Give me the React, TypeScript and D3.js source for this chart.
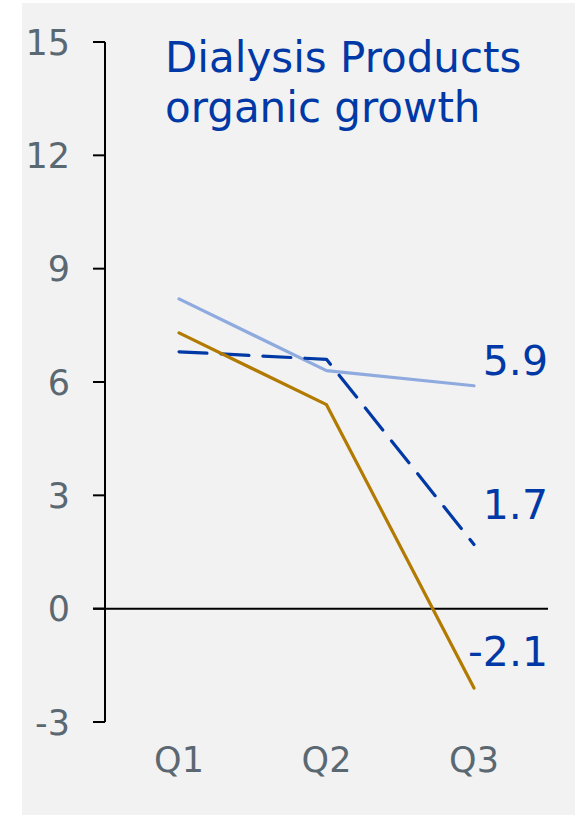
import * as d3 from 'd3';

const quarters = ['Q1', 'Q2', 'Q3'];
const yTicks = [-3, 0, 3, 6, 9, 12, 15];
const lightSeries = [8.2, 6.3, 5.9];
const dashedSeries = [6.8, 6.6, 1.7];
const goldSeries = [7.3, 5.4, -2.1];
const titleLines = ['Dialysis Products', 'organic growth'];

const W = 580;
const H = 817;
const FONT = '"DejaVu Sans", Verdana, sans-serif';
const BLUE = '#0039a6';
const GREY = '#5a6872';

export default function App() {
  const x = d3.scalePoint<string>().domain(quarters).range([179, 474]);
  const y = d3.scaleLinear().domain([-3, 15]).range([722, 42]);

  const line = d3
    .line<number>()
    .x((_, i) => x(quarters[i]) as number)
    .y(d => y(d));

  const series = [
    { values: lightSeries, color: '#8eaadf', dash: undefined, labelDy: -11 },
    { values: dashedSeries, color: BLUE, dash: '28 14', labelDy: -25 },
    { values: goldSeries, color: '#b27a00', dash: undefined, labelDy: -22 },
  ];

  const axisX = 105;
  const last = quarters.length - 1;

  return (
    <svg
      width={W}
      height={H}
      style={{ position: 'absolute', left: 0, top: 0 }}
      fontFamily={FONT}
    >
      <rect x={0} y={0} width={W} height={H} fill="#ffffff" />
      <rect x={22} y={3} width={553} height={812} fill="#f2f2f2" />

      {titleLines.map((t, i) => (
        <text key={t} x={165} y={72 + i * 50} fontSize={42} fill={BLUE}>
          {t}
        </text>
      ))}

      {/* y axis */}
      <line x1={axisX} x2={axisX} y1={y(15)} y2={y(-3)} stroke="#000" strokeWidth={2} />
      {yTicks.map(t => (
        <g key={t}>
          <line x1={93} x2={axisX} y1={y(t)} y2={y(t)} stroke="#000" strokeWidth={2} />
          <text
            x={70}
            y={y(t)}
            dy="0.36em"
            textAnchor="end"
            fontSize={35}
            fill={GREY}
          >
            {t}
          </text>
        </g>
      ))}

      {/* zero line */}
      <line x1={93} x2={548} y1={y(0)} y2={y(0)} stroke="#000" strokeWidth={2} />

      {quarters.map(q => (
        <text
          key={q}
          x={x(q)}
          y={772}
          textAnchor="middle"
          fontSize={35}
          fill={GREY}
        >
          {q}
        </text>
      ))}

      {series.map((s, i) => (
        <path
          key={i}
          d={line(s.values) || ''}
          fill="none"
          stroke={s.color}
          strokeWidth={3.2}
          strokeDasharray={s.dash}
          strokeLinecap="round"
          strokeLinejoin="round"
        />
      ))}

      {series.map((s, i) => (
        <text
          key={'l' + i}
          x={548}
          y={y(s.values[last]) + s.labelDy}
          textAnchor="end"
          fontSize={41}
          fill={BLUE}
        >
          {d3.format('.1f')(s.values[last]).replace('−', '-')}
        </text>
      ))}
    </svg>
  );
}
